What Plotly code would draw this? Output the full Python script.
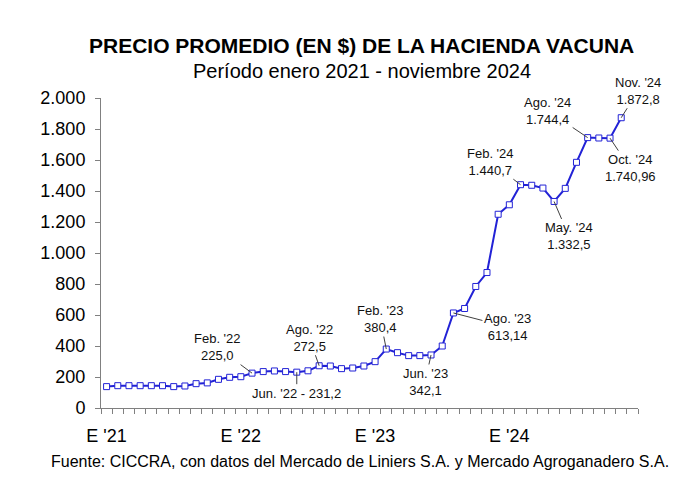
import plotly.graph_objects as go

# ---- data ----
months_idx = list(range(47))  # Jan 2021 .. Nov 2024
prices = [
    138, 144, 144, 144, 144, 144, 138, 142, 157, 162, 185, 198,          # 2021
    202, 225.0, 235, 239, 235, 231.2, 240, 272.5, 271, 254, 258, 271,    # 2022
    299, 380.4, 357, 338, 338, 342.1, 400, 613.14, 642, 784, 874, 1250,  # 2023
    1311, 1440.7, 1437, 1419, 1332.5, 1417, 1585, 1744.4, 1742, 1740.96, 1872.8,  # 2024
]
tick_positions = [0, 12, 24, 36]
tick_labels = ["E '21", "E '22", "E '23", "E '24"]
y_ticks = [0, 200, 400, 600, 800, 1000, 1200, 1400, 1600, 1800, 2000]
y_tick_labels = ["0", "200", "400", "600", "800", "1.000", "1.200", "1.400", "1.600", "1.800", "2.000"]

# labelled points: (index, text, ax, ay)
labels = [
    (13, "Feb. '22<br>225,0", -35, -26),
    (17, "Jun. '22 - 231,2", 0, 21),
    (19, "Ago. '22<br>272,5", -10, -28),
    (25, "Feb. '23<br>380,4", -6, -30),
    (29, "Jun. '23<br>342,1", -6, 27),
    (31, "Ago. '23<br>613,14", 54, 14),
    (37, "Feb. '24<br>1.440,7", -30, -23),
    (40, "May. '24<br>1.332,5", 15, 35),
    (43, "Ago. '24<br>1.744,4", -40, -27),
    (45, "Oct. '24<br>1.740,96", 20, 30),
    (46, "Nov. '24<br>1.872,8", 17, -27),
]

FONT = "Liberation Sans, Arial, sans-serif"
BLUE = "#2222D6"
AXIS = "#808080"

fig = go.Figure()
fig.add_trace(go.Scatter(
    x=months_idx, y=prices, mode="lines+markers",
    line=dict(color=BLUE, width=2),
    marker=dict(symbol="square", size=6, color="white", line=dict(color=BLUE, width=1)),
    hoverinfo="skip", showlegend=False,
))

annotations = []
for idx, txt, ax, ay in labels:
    annotations.append(dict(
        x=idx, y=prices[idx], xref="x", yref="y", text=txt,
        showarrow=True, arrowhead=0, arrowwidth=1, arrowcolor="#404040",
        ax=ax, ay=ay, standoff=0,
        font=dict(family=FONT, size=13, color="#111111"),
    ))

annotations += [
    dict(text="<b>PRECIO PROMEDIO (EN $) DE LA HACIENDA VACUNA</b>", xref="paper", yref="paper",
         x=0.486, y=1.168, xanchor="center", yanchor="middle", showarrow=False,
         font=dict(family=FONT, size=21, color="black")),
    dict(text="Período enero 2021 - noviembre 2024", xref="paper", yref="paper",
         x=0.486, y=1.087, xanchor="center", yanchor="middle", showarrow=False,
         font=dict(family=FONT, size=20, color="black")),
    dict(text="Fuente: CICCRA, con datos del Mercado de Liniers S.A. y Mercado Agroganadero S.A.",
         xref="paper", yref="paper", x=0.482, y=-0.171, xanchor="center", yanchor="middle",
         showarrow=False, font=dict(family=FONT, size=16, color="black")),
]

fig.update_layout(
    width=683, height=474,
    margin=dict(l=93, r=53, t=90, b=74),
    paper_bgcolor="white", plot_bgcolor="white",
    annotations=annotations,
    font=dict(family=FONT),
)
fig.update_xaxes(
    range=[-0.5, 47.5], tickvals=tick_positions, ticktext=tick_labels,
    ticks="", showgrid=False, zeroline=False,
    showline=True, linecolor=AXIS, linewidth=1,
    tickfont=dict(family=FONT, size=18, color="black"),
    ticklabelstandoff=11,
    minor=dict(tick0=-0.5, dtick=1, ticks="outside", ticklen=5, tickcolor=AXIS, showgrid=False),
)
fig.update_yaxes(
    range=[0, 2000], tickvals=y_ticks, ticktext=y_tick_labels,
    ticks="outside", ticklen=5, tickcolor=AXIS,
    showgrid=False, zeroline=False,
    showline=True, linecolor=AXIS, linewidth=1,
    tickfont=dict(family=FONT, size=18, color="black"),
    ticklabelstandoff=6,
)

fig.write_html("out.html")
